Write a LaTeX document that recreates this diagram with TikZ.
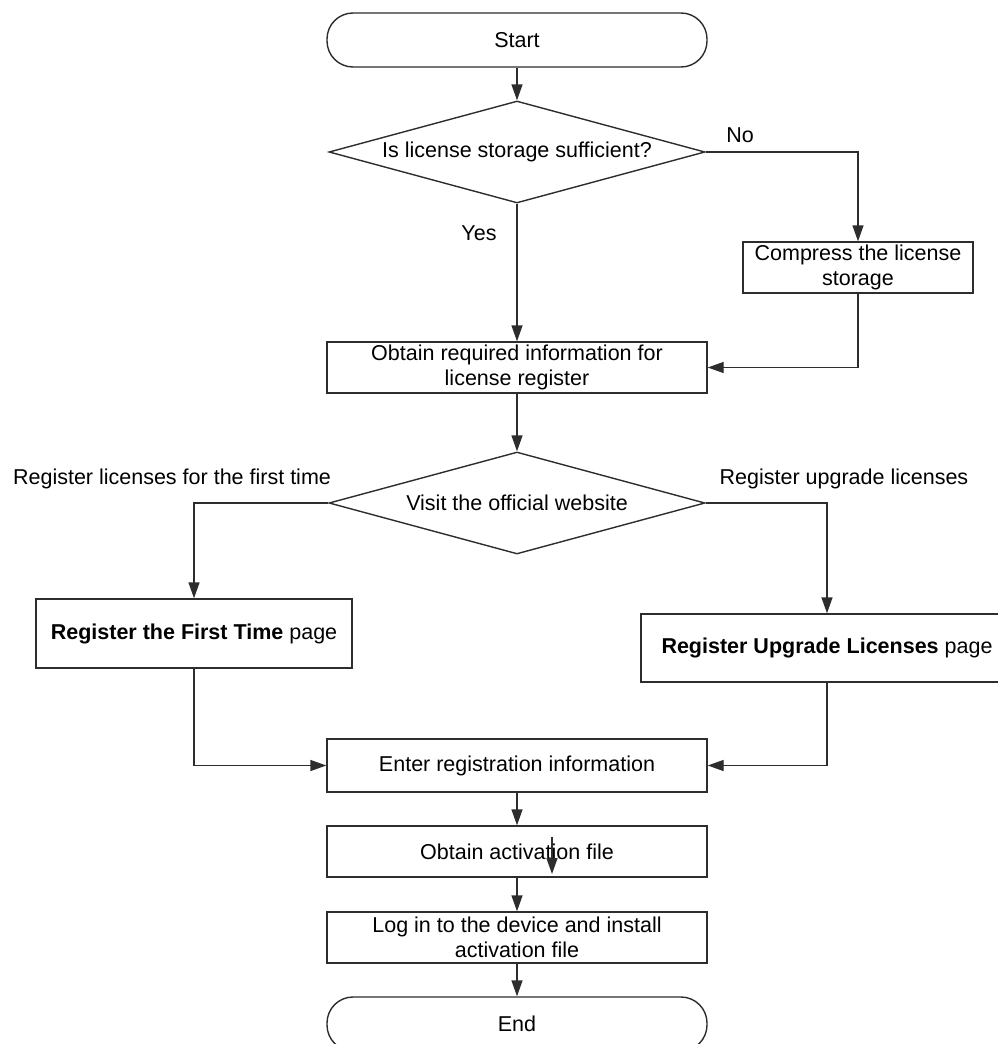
\documentclass[tikz,border=0pt]{standalone}
\usepackage{fontspec}
\setmainfont{Liberation Sans}
\usetikzlibrary{arrows.meta,shapes.geometric}
\definecolor{linegray}{RGB}{45,45,45}
\begin{document}
\begin{tikzpicture}[x=1pt,y=-1pt,
  every node/.style={font=\fontsize{21.5}{25}\selectfont, text=black},
  box/.style={draw=linegray, line width=1.4pt, inner sep=0pt, align=center, fill=white},
  terminal/.style={box, rounded corners=26pt, minimum width=380pt, minimum height=54pt},
  decision/.style={box, diamond, aspect=3.7, minimum width=376pt, minimum height=102pt},
  flow/.style={draw=linegray, line width=1.4pt, -{Triangle[length=16pt,width=11pt]}},
  lbl/.style={inner sep=0pt}]
\useasboundingbox (0,0) rectangle (998,1044);
\clip (0,0) rectangle (998,1044);

% process steps
\node[terminal] (start) at (517,40) {Start};
\node[decision] (d1) at (517,152) {Is license storage sufficient?};
\node[box, minimum width=230pt, minimum height=51pt] (compress) at (858,267.5) {Compress the license\\storage};
\node[box, minimum width=380pt, minimum height=51pt] (info) at (517,367.5) {Obtain required information for\\license register};
\node[decision] (d2) at (517,503) {Visit the official website};
\node[box, minimum width=316pt, minimum height=69pt] (first) at (194,633.5) {\textbf{Register the First Time} page};
\node[box, minimum width=372pt, minimum height=68pt] (upgrade) at (827,648) {\textbf{Register Upgrade Licenses} page};
\node[box, minimum width=380pt, minimum height=53pt] (enter) at (517,765.5) {Enter registration information};
\node[box, minimum width=380pt, minimum height=51pt] (act) at (517,851.5) {Obtain activation file};
\node[box, minimum width=380pt, minimum height=51pt] (login) at (517,937.5) {Log in to the device and install\\activation file};
\node[terminal] (end) at (517,1024) {End};

% branch labels
\node[lbl] (no) at (740,135) {No};
\node[lbl] (yes) at (479,233) {Yes};
\node[lbl] (lfirst) at (172,479) {Register licenses for the first time};
\node[lbl] (lupg) at (844,479) {Register upgrade licenses};

% connectors
\draw[flow] (start) -- (d1);
\draw[flow] (d1.east) -| (compress.north);
\draw[flow] (d1.south) -- (info.north);
\draw[flow] (compress.south) |- (info.east);
\draw[flow] (info) -- (d2);
\draw[flow] (d2.west) -| (first.north);
\draw[flow] (d2.east) -| (upgrade.north);
\draw[flow] (first.south) |- (enter.west);
\draw[flow] (upgrade.south) |- (enter.east);
\draw[flow] (enter) -- (act);
\draw[flow] (act) -- (login);
\draw[flow] (login) -- (end);

% short arrow inside the activation box
\coordinate (s1) at (552,837);
\coordinate (s2) at (552,874);
\draw[flow] (s1) -- (s2);
\end{tikzpicture}
\end{document}
